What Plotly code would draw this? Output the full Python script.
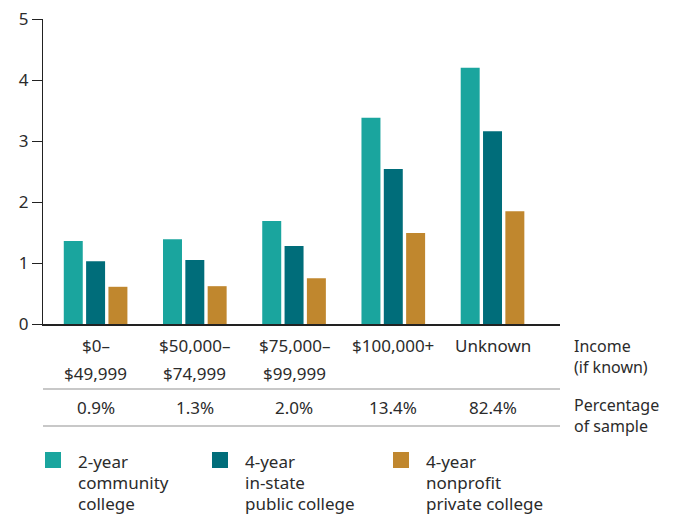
import plotly.graph_objects as go

# ---- data ----
categories = ["$0–$49,999", "$50,000–$74,999", "$75,000–$99,999", "$100,000+", "Unknown"]
cat_line1 = ["$0–", "$50,000–", "$75,000–", "$100,000+", "Unknown"]
cat_line2 = ["$49,999", "$74,999", "$99,999", "", ""]
sample_pct = ["0.9%", "1.3%", "2.0%", "13.4%", "82.4%"]
row_labels = ["Income<br>(if known)", "Percentage<br>of sample"]
series_names = ["2-year community college", "4-year in-state public college", "4-year nonprofit private college"]
legend_lines = [["2-year", "community", "college"], ["4-year", "in-state", "public college"], ["4-year", "nonprofit", "private college"]]
community = [1.36, 1.39, 1.69, 3.38, 4.20]
public_instate = [1.03, 1.05, 1.28, 2.54, 3.16]
private_nonprofit = [0.61, 0.62, 0.75, 1.49, 1.85]
values = [community, public_instate, private_nonprofit]
colors = ["#1AA59E", "#006D7A", "#C0872E"]
y_ticks = [0, 1, 2, 3, 4, 5]

W, H = 678, 515
ML, MR, MT, MB = 43, 118, 19, 191
PH = H - MT - MB
FONT = "Noto Sans"
TXT = "#2b2b2b"
FS = 17

def py(pix):
    """pixel y (from top) -> paper y"""
    return (H - MB - pix) / PH

def px(pix):
    return (pix - ML) / (W - ML - MR)

def txt(size=FS, **kw):
    d = dict(showarrow=False, yanchor="middle", font=dict(size=size, color=TXT, family=FONT))
    d.update(kw)
    return d

xs = list(range(len(categories)))
fig = go.Figure()
for name, vals, col in zip(series_names, values, colors):
    fig.add_trace(go.Bar(x=xs, y=vals, name=name, marker=dict(color=col, line=dict(width=0)),
                         showlegend=False))

annotations = []
shapes = []
for i in xs:
    annotations.append(txt(x=i, y=py(345), xref="x", yref="paper", text=cat_line1[i]))
    if cat_line2[i]:
        annotations.append(txt(x=i, y=py(373), xref="x", yref="paper", text=cat_line2[i]))
    annotations.append(txt(x=i, y=py(407), xref="x", yref="paper", text=sample_pct[i]))

for t, yy in zip(row_labels, [356, 415.5]):
    annotations.append(txt(size=16, x=px(572), y=py(yy), xref="paper", yref="paper", text=t,
                           xanchor="left", align="left"))

for yy in [389, 426]:
    shapes.append(dict(type="line", xref="paper", yref="paper", x0=0, x1=1, y0=py(yy), y1=py(yy),
                       line=dict(color="#C8C8C8", width=2)))

leg_sq_x = [45, 212, 393]
leg_txt_x = [76, 243, 424]
for k in range(3):
    shapes.append(dict(type="rect", xref="paper", yref="paper", x0=px(leg_sq_x[k]), x1=px(leg_sq_x[k] + 16),
                       y0=py(452), y1=py(468), fillcolor=colors[k], line=dict(width=0)))
    for j, line in enumerate(legend_lines[k]):
        annotations.append(txt(x=px(leg_txt_x[k]), y=py(461 + j * 21), xref="paper", yref="paper",
                               text=line, xanchor="left"))

fig.update_layout(
    width=W, height=H,
    margin=dict(l=ML, r=MR, t=MT, b=MB, autoexpand=False),
    paper_bgcolor="white", plot_bgcolor="white",
    barmode="group", bargap=0.325, bargroupgap=0.15,
    font=dict(family=FONT, size=FS, color=TXT),
    xaxis=dict(range=[-0.53, 4.68], showticklabels=False, ticks="", showgrid=False, zeroline=False,
               showline=True, linecolor="#222222", linewidth=1.5, fixedrange=True),
    yaxis=dict(range=[0, 5], tickvals=y_ticks, ticks="outside", ticklen=10, tickcolor="#222222", tickwidth=1,
               showgrid=False, zeroline=False, showline=True, linecolor="#222222", linewidth=1,
               tickfont=dict(size=FS, color=TXT, family=FONT), fixedrange=True),
    annotations=annotations, shapes=shapes,
)
fig.write_html("out.html", config={"displayModeBar": False},
               post_script="document.body.style.margin='0';document.body.style.overflow='hidden';")
